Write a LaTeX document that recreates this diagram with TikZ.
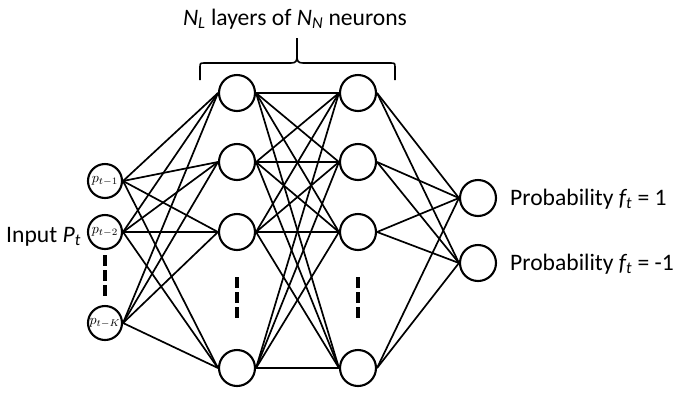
\documentclass[tikz,border=0pt]{standalone}
\usepackage{graphicx}
\usepackage{fontspec}
\setmainfont{Carlito}
\newcommand{\plab}[1]{\scalebox{1.4}{$#1$}}
\begin{document}
\begin{tikzpicture}[x=1pt,y=-1pt,
  neuron/.style={circle,draw,line width=2.1pt,minimum size=36pt,inner sep=0pt},
  inneuron/.style={neuron,minimum size=34pt},
  conn/.style={line width=1.7pt},
  vdots/.style={line width=4pt,dash pattern=on 11pt off 4pt},
  lbl/.style={font=\fontsize{23.6}{28}\selectfont,inner sep=0pt}]
\useasboundingbox (0,0) rectangle (673,392);
% input layer
\node[inneuron] (i1) at (105,181) {\plab{p_{t-1}}};
\node[inneuron] (i2) at (105,232) {\plab{p_{t-2}}};
\node[inneuron] (iK) at (105,323) {\plab{p_{t-K}}};
% hidden layers
\foreach \n/\y in {1/93,2/162,3/232,4/368}{
  \node[neuron] (ha\n) at (237,\y) {};
  \node[neuron] (hb\n) at (358,\y) {};
}
% outputs
\node[neuron] (o1) at (478,198) {};
\node[neuron] (o2) at (478,263) {};
% connections
\foreach \a in {i1,i2,iK}{\foreach \b in {ha1,ha2,ha3,ha4}{\draw[conn] (\a.east) -- (\b.west);}}
\foreach \a in {ha1,ha2,ha3,ha4}{\foreach \b in {hb1,hb2,hb3,hb4}{\draw[conn] (\a.east) -- (\b.west);}}
\foreach \a in {hb1,hb2,hb3,hb4}{\foreach \b in {o1,o2}{\draw[conn] (\a.east) -- (\b.west);}}
% ellipsis dashes
\coordinate (da1) at (105,255); \coordinate (da2) at (105,297);
\coordinate (db1) at (237,277); \coordinate (db2) at (237,320);
\coordinate (dc1) at (358,277); \coordinate (dc2) at (358,320);
\draw[vdots] (da1) -- (da2);
\draw[vdots] (db1) -- (db2);
\draw[vdots] (dc1) -- (dc2);
% brace
\draw[line width=1.6pt] (200,80) -- (200,68) .. controls (200,63) .. (205,63) -- (291,63)
  .. controls (296,63) and (297,61) .. (297,56) -- (297,38);
\draw[line width=1.6pt] (395,80) -- (395,68) .. controls (395,63) .. (390,63) -- (303,63)
  .. controls (298,63) and (297,61) .. (297,56);
% labels
\node[lbl,anchor=base] (top) at (295,25) {{\itshape N}\textsubscript{\itshape L} layers of {\itshape N}\textsubscript{\itshape N} neurons};
\node[lbl,anchor=base east] (inp) at (81,242) {Input {\itshape P}\textsubscript{\itshape t}};
\node[lbl,anchor=base west] (p1) at (510,205) {Probability {\itshape f}\textsubscript{\itshape t} = 1};
\node[lbl,anchor=base west] (p2) at (510,270) {Probability {\itshape f}\textsubscript{\itshape t} = -1};
\end{tikzpicture}
\end{document}
